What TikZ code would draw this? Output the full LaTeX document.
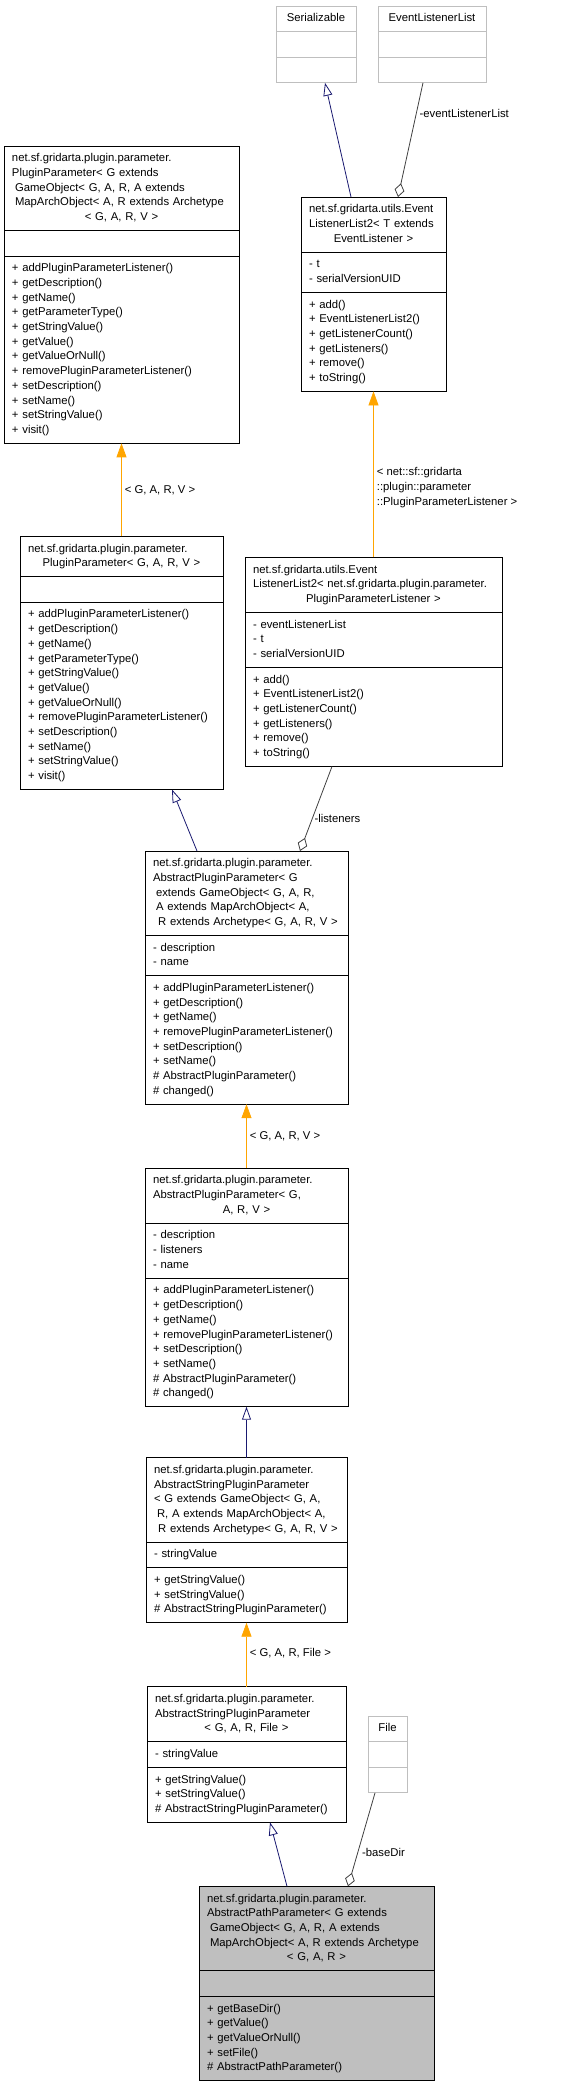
\documentclass[tikz,border=0pt]{standalone}
\usepackage{fontspec}
\setmainfont{Liberation Sans}
\usetikzlibrary{arrows.meta,positioning,shapes.multipart}
\definecolor{edgeblue}{HTML}{191970}
\definecolor{edgeorange}{HTML}{FFA500}
\definecolor{edgegray}{HTML}{404040}
\definecolor{boxgray}{HTML}{BFBFBF}
\newcommand\ctrline[1]{\makebox[\hsize]{#1}}

\begin{document}
\begin{tikzpicture}[x=1pt, y=1pt,
  cls/.style={rectangle split, rectangle split parts=3, draw=black, line width=0.9pt,
              inner xsep=8pt, inner ysep=5pt, outer sep=0pt, align=left,
              font=\fontsize{11.3}{14.7}\selectfont},
  ghost/.style={cls, draw=boxgray, align=center},
  ext/.style={-{Triangle[open, length=13pt, width=9pt]}, draw=edgeblue, line width=0.8pt},
  tmpl/.style={-{Triangle[length=14pt, width=10pt]}, draw=edgeorange, line width=0.8pt},
  agg/.style={{Diamond[open, length=14pt, width=10pt]}-, draw=edgegray, line width=0.8pt},
  lbl/.style={anchor=west, inner sep=1pt, align=left, font=\fontsize{11.3}{14.7}\selectfont},
]
\useasboundingbox (0,0) rectangle (576,-2081);

\node[ghost, text width=64pt, anchor=north] (ser) at (316,-6) {\strut Serializable\nodepart{two}\strut\nodepart{three}\strut};
\node[ghost, text width=92pt, right=22pt of ser] (ell) {\strut EventListenerList\nodepart{two}\strut\nodepart{three}\strut};

\node[cls, text width=129pt, anchor=north] (elt) at (373.5,-197) {\strut net.sf.gridarta.utils.Event\\
  ListenerList2< T extends\\
  \ctrline{EventListener >\strut}
  \nodepart{two}\strut - t\\
  - serialVersionUID\strut
  \nodepart{three}\strut + add()\\
  + EventListenerList2()\\
  + getListenerCount()\\
  + getListeners()\\
  + remove()\\
  + toString()\strut};

\node[cls, text width=219pt, anchor=north] (ppg) at (121.5,-146) {\strut net.sf.gridarta.plugin.parameter.\\
  PluginParameter< G extends\\
  \hspace*{3pt}GameObject< G, A, R, A extends\\
  \hspace*{3pt}MapArchObject< A, R extends Archetype\\
  \ctrline{< G, A, R, V >\strut}
  \nodepart{two}\strut
  \nodepart{three}\strut + addPluginParameterListener()\\
  + getDescription()\\
  + getName()\\
  + getParameterType()\\
  + getStringValue()\\
  + getValue()\\
  + getValueOrNull()\\
  + removePluginParameterListener()\\
  + setDescription()\\
  + setName()\\
  + setStringValue()\\
  + visit()\strut};

\node[cls, text width=187pt, below=93pt of ppg] (pp) {\strut net.sf.gridarta.plugin.parameter.\\
  \ctrline{PluginParameter< G, A, R, V >\strut}
  \nodepart{two}\strut
  \nodepart{three}\strut + addPluginParameterListener()\\
  + getDescription()\\
  + getName()\\
  + getParameterType()\\
  + getStringValue()\\
  + getValue()\\
  + getValueOrNull()\\
  + removePluginParameterListener()\\
  + setDescription()\\
  + setName()\\
  + setStringValue()\\
  + visit()\strut};

\node[cls, text width=241pt, below=166pt of elt] (elp) {\strut net.sf.gridarta.utils.Event\\
  ListenerList2< net.sf.gridarta.plugin.parameter.\\
  \ctrline{PluginParameterListener >\strut}
  \nodepart{two}\strut - eventListenerList\\
  - t\\
  - serialVersionUID\strut
  \nodepart{three}\strut + add()\\
  + EventListenerList2()\\
  + getListenerCount()\\
  + getListeners()\\
  + remove()\\
  + toString()\strut};

\node[cls, text width=187pt, anchor=north] (apg) at (246.5,-851) {\strut net.sf.gridarta.plugin.parameter.\\
  AbstractPluginParameter< G\\
  \hspace*{3pt}extends GameObject< G, A, R,\\
  \hspace*{3pt}A extends MapArchObject< A,\\
  \ctrline{\hspace*{3pt}R extends Archetype< G, A, R, V >\strut}
  \nodepart{two}\strut - description\\
  - name\strut
  \nodepart{three}\strut + addPluginParameterListener()\\
  + getDescription()\\
  + getName()\\
  + removePluginParameterListener()\\
  + setDescription()\\
  + setName()\\
  \# AbstractPluginParameter()\\
  \# changed()\strut};

\node[cls, text width=187pt, below=64pt of apg] (ap) {\strut net.sf.gridarta.plugin.parameter.\\
  AbstractPluginParameter< G,\\
  \ctrline{A, R, V >\strut}
  \nodepart{two}\strut - description\\
  - listeners\\
  - name\strut
  \nodepart{three}\strut + addPluginParameterListener()\\
  + getDescription()\\
  + getName()\\
  + removePluginParameterListener()\\
  + setDescription()\\
  + setName()\\
  \# AbstractPluginParameter()\\
  \# changed()\strut};

\node[cls, text width=185pt, below=51pt of ap] (aspg) {\strut net.sf.gridarta.plugin.parameter.\\
  AbstractStringPluginParameter\\
  < G extends GameObject< G, A,\\
  \hspace*{3pt}R, A extends MapArchObject< A,\\
  \ctrline{\hspace*{3pt}R extends Archetype< G, A, R, V >\strut}
  \nodepart{two}\strut - stringValue\strut
  \nodepart{three}\strut + getStringValue()\\
  + setStringValue()\\
  \# AbstractStringPluginParameter()\strut};

\node[cls, text width=183pt, below=64pt of aspg] (asp) {\strut net.sf.gridarta.plugin.parameter.\\
  AbstractStringPluginParameter\\
  \ctrline{< G, A, R, File >\strut}
  \nodepart{two}\strut - stringValue\strut
  \nodepart{three}\strut + getStringValue()\\
  + setStringValue()\\
  \# AbstractStringPluginParameter()\strut};

\node[ghost, text width=23pt, right=22pt of asp] (file) {\strut File\nodepart{two}\strut\nodepart{three}\strut};

\node[cls, fill=boxgray, text width=219pt, below=64pt of asp, xshift=70pt] (app) {\strut net.sf.gridarta.plugin.parameter.\\
  AbstractPathParameter< G extends\\
  \hspace*{3pt}GameObject< G, A, R, A extends\\
  \hspace*{3pt}MapArchObject< A, R extends Archetype\\
  \ctrline{< G, A, R >\strut}
  \nodepart{two}\strut
  \nodepart{three}\strut + getBaseDir()\\
  + getValue()\\
  + getValueOrNull()\\
  + setFile()\\
  \# AbstractPathParameter()\strut};

\draw[ext] ([xshift=-22.5pt]elt.north) -- ([xshift=9pt]ser.south);
\draw[agg] ([xshift=24.5pt]elt.north) -- node[lbl, pos=0.73, xshift=2pt] {-eventListenerList} ([xshift=-9pt]ell.south);
\draw[tmpl] (elp.north) -- node[lbl, pos=0.42, xshift=2pt] {< net::sf::gridarta\\::plugin::parameter\\::PluginParameterListener >} (elt.south);
\draw[tmpl] (pp.north) -- node[lbl, pos=0.5, xshift=2pt] {< G, A, R, V >} (ppg.south);
\draw[ext] ([xshift=-49.5pt]apg.north) -- ([xshift=50.5pt]pp.south);
\draw[agg] ([xshift=53.5pt]apg.north) -- node[lbl, pos=0.38, xshift=1pt] {-listeners} ([xshift=-41.5pt]elp.south);
\draw[tmpl] (ap.north) -- node[lbl, pos=0.5, xshift=2pt] {< G, A, R, V >} (apg.south);
\draw[ext] (aspg.north) -- (ap.south);
\draw[tmpl] (asp.north) -- node[lbl, pos=0.52, xshift=2pt] {< G, A, R, File >} (aspg.south);
\draw[ext] ([xshift=-29.5pt]app.north) -- ([xshift=23.5pt]asp.south);
\draw[agg] ([xshift=31.5pt]app.north) -- node[lbl, pos=0.36, xshift=3pt] {-baseDir} ([xshift=-12.5pt]file.south);

\end{tikzpicture}
\end{document}
